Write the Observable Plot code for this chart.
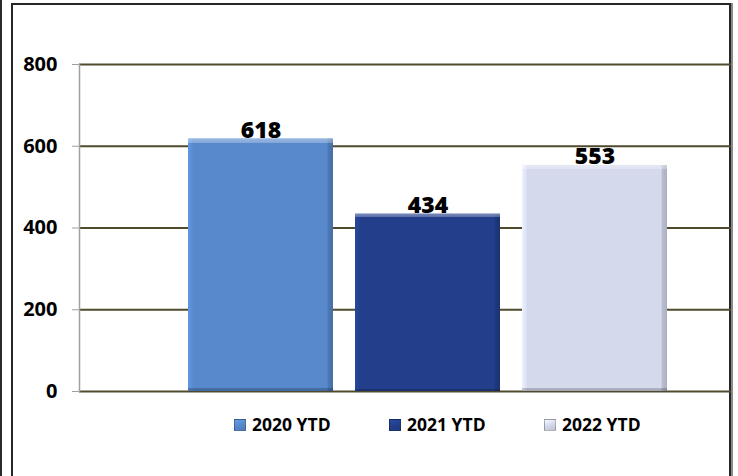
<!DOCTYPE html>
<html>
<head>
<meta charset="utf-8">
<script src="https://cdn.jsdelivr.net/npm/d3@7"></script>
<script src="https://cdn.jsdelivr.net/npm/@observablehq/plot@0.6"></script>
<style>
  html, body { margin: 0; padding: 0; background: #fff; }
  #wrap { position: relative; width: 738px; height: 476px; overflow: hidden; font-family: "Open Sans", Lato, sans-serif; }
  #edge { position: absolute; left: 0; top: 0; width: 2px; height: 476px; background: #2a2a2a; }
  #box { position: absolute; left: 11px; top: 3px; width: 716px; height: 520px; border: 2.5px solid #262626; box-shadow: 2px 0 0 #8a8a8a; }
  #chart { position: absolute; left: 0; top: 0; }
  #legend { position: absolute; left: 234px; top: 412px; white-space: nowrap; font-weight: 700; font-size: 17.5px; color: #000; }
  .item { display: inline-block; width: 155px; }
  .sw { display: inline-block; width: 10px; height: 10px; margin-right: 6px; vertical-align: 0px; border: 0.5px solid rgba(0,0,0,0.25); }
</style>
</head>
<body>
<div id="wrap">
  <div id="edge"></div>
  <div id="box"></div>
  <div id="chart"></div>
  <div id="legend"></div>
</div>
<script>
const years = ["2020 YTD", "2021 YTD", "2022 YTD"];
const values = [618, 434, 553];
const colors = ["#5789cc", "#233f8c", "#d4d9ec"];
const yTicks = [0, 200, 400, 600, 800];

const data = years.map((y, i) => ({year: y, value: values[i]}));
const gradIds = years.map((_, i) => `g${i}`);

const plot = Plot.plot({
  width: 738,
  height: 405,
  marginTop: 64,
  marginBottom: 14,
  marginLeft: 79,
  marginRight: 7,
  style: {fontFamily: "'Open Sans', Lato, sans-serif", background: "transparent"},
  x: {domain: years, range: [188, 667], paddingInner: 0.132, paddingOuter: 0, axis: null},
  y: {domain: [0, 800], axis: null},
  color: {type: "ordinal", domain: years, range: gradIds.map(id => `url(#${id})`)},
  marks: [
    Plot.ruleY(yTicks, {stroke: "#4f4a2c", strokeWidth: 2}),
    Plot.frame({anchor: "left", stroke: "#a0a0a0", strokeWidth: 1.5}),
    Plot.axisY({ticks: yTicks, label: null, tickSize: 7, tickPadding: 15, stroke: "#a0a0a0", fill: "#000", fontSize: 20, fontWeight: "bold"}),
    Plot.barY(data, {x: "year", y: "value", fill: "year"}),
    Plot.barY(data, {x: "year", y: "value", fill: "url(#vtop)"}),
    Plot.text(data, {x: "year", y: "value", text: d => String(d.value), lineAnchor: "bottom", dy: -1, fontSize: 23, fontWeight: 800, fill: "#000"})
  ]
});

// gradients for the bevel look
const svg = d3.select(plot);
const defs = svg.insert("defs", ":first-child");
colors.forEach((c, i) => {
  const base = d3.color(c);
  const g = defs.append("linearGradient").attr("id", gradIds[i]).attr("x1", 0).attr("x2", 1).attr("y1", 0).attr("y2", 0);
  g.append("stop").attr("offset", "0%").attr("stop-color", base.brighter(0.3).formatHex());
  g.append("stop").attr("offset", "3%").attr("stop-color", base.brighter(0.1).formatHex());
  g.append("stop").attr("offset", "3.5%").attr("stop-color", c);
  g.append("stop").attr("offset", "96%").attr("stop-color", c);
  g.append("stop").attr("offset", "96.5%").attr("stop-color", base.darker(0.35).formatHex());
  g.append("stop").attr("offset", "100%").attr("stop-color", base.darker(0.6).formatHex());
});
const v = defs.append("linearGradient").attr("id", "vtop").attr("x1", 0).attr("x2", 0).attr("y1", 0).attr("y2", 1);
v.append("stop").attr("offset", "0%").attr("stop-color", "#fff").attr("stop-opacity", 0.4);
v.append("stop").attr("offset", "1.8%").attr("stop-color", "#fff").attr("stop-opacity", 0.25);
v.append("stop").attr("offset", "2%").attr("stop-color", "#fff").attr("stop-opacity", 0);
v.append("stop").attr("offset", "98.6%").attr("stop-color", "#000").attr("stop-opacity", 0);
v.append("stop").attr("offset", "98.8%").attr("stop-color", "#000").attr("stop-opacity", 0.18);
v.append("stop").attr("offset", "100%").attr("stop-color", "#000").attr("stop-opacity", 0.25);

document.getElementById("chart").appendChild(plot);

// legend
const legend = d3.select("#legend");
years.forEach((y, i) => {
  const base = d3.color(colors[i]);
  const item = legend.append("span").attr("class", "item");
  item.append("span").attr("class", "sw")
    .style("background", `linear-gradient(160deg, ${base.brighter(0.4).formatHex()} 0%, ${colors[i]} 50%, ${base.darker(0.3).formatHex()} 100%)`);
  item.append("span").text(y);
});
</script>
</body>
</html>
